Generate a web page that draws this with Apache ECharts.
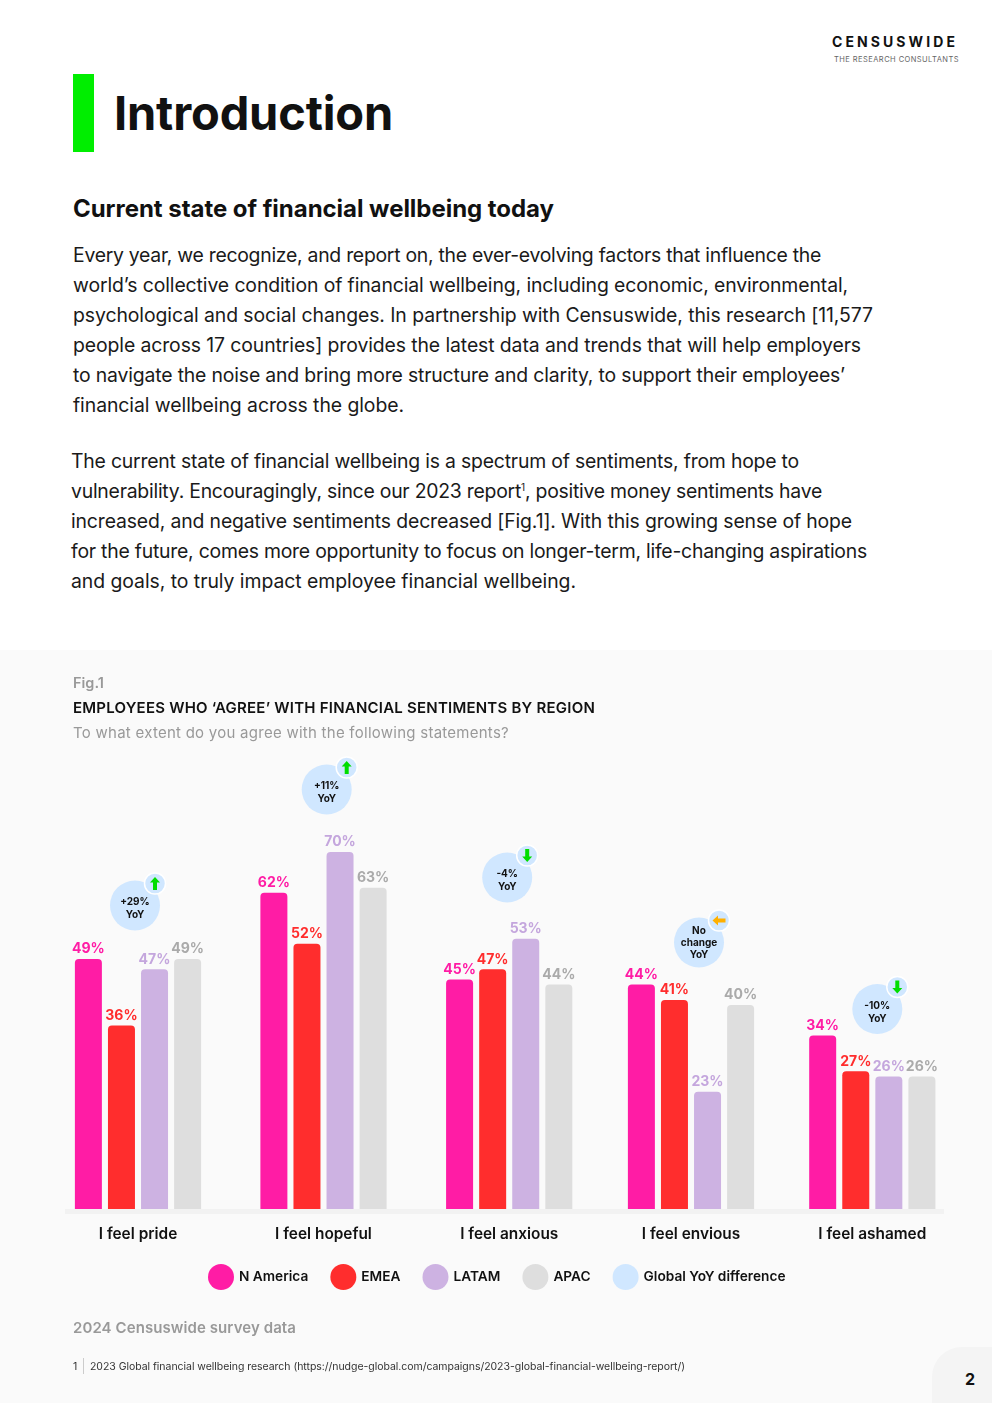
<!DOCTYPE html>
<html>
<head>
<meta charset="utf-8">
<title>Introduction</title>
<script src="https://cdn.jsdelivr.net/npm/echarts@6/dist/echarts.min.js"></script>
<style>
  html, body { margin: 0; padding: 0; background: #fff; }
  body { position: relative; width: 992px; height: 1403px; overflow: hidden; font-family: Inter, sans-serif; color: #111; }
  .t { position: absolute; white-space: nowrap; z-index: 2; }
  .line { font-size: 19.4px; line-height: 30px; color: #1a1a1a; }
  .line sup { font-size: 10px; line-height: 0; }
  #chart { position: absolute; left: 0; top: 650px; width: 992px; height: 753px; }
</style>
</head>
<body>
<div class="t" data-right="958" style="left:832px;top:34px;font-size:14px;font-weight:700;line-height:16px">CENSUSWIDE</div>
<div class="t" data-right="959" style="left:834px;top:55px;font-size:7.5px;line-height:10px;color:#666">THE RESEARCH CONSULTANTS</div>
<div style="position:absolute;left:73px;top:74px;width:21px;height:78px;background:#00ee00"></div>
<div class="t" data-right="393" style="left:114px;top:84px;font-size:47px;font-weight:700;line-height:58px">Introduction</div>
<div class="t" data-right="554" style="left:73px;top:194px;font-size:24px;font-weight:700;line-height:30px">Current state of financial wellbeing today</div>

<div class="t line" data-right="821" style="left:73px;top:240px">Every year, we recognize, and report on, the ever-evolving factors that influence the</div>
<div class="t line" data-right="848" style="left:73px;top:270px">world’s collective condition of financial wellbeing, including economic, environmental,</div>
<div class="t line" data-right="873" style="left:73px;top:300px">psychological and social changes. In partnership with Censuswide, this research [11,577</div>
<div class="t line" data-right="861" style="left:73px;top:330px">people across 17 countries] provides the latest data and trends that will help employers</div>
<div class="t line" data-right="845" style="left:73px;top:360px">to navigate the noise and bring more structure and clarity, to support their employees’</div>
<div class="t line" data-right="404" style="left:73px;top:390px">financial wellbeing across the globe.</div>

<div class="t line" data-right="799" style="left:71px;top:446px">The current state of financial wellbeing is a spectrum of sentiments, from hope to</div>
<div class="t line" data-right="822" style="left:71px;top:476px">vulnerability. Encouragingly, since our 2023 report<sup>1</sup>, positive money sentiments have</div>
<div class="t line" data-right="852" style="left:71px;top:506px">increased, and negative sentiments decreased [Fig.1]. With this growing sense of hope</div>
<div class="t line" data-right="867" style="left:71px;top:536px">for the future, comes more opportunity to focus on longer-term, life-changing aspirations</div>
<div class="t line" data-right="576" style="left:71px;top:566px">and goals, to truly impact employee financial wellbeing.</div>

<div id="chart"></div>

<div class="t" style="left:73px;top:674px;font-size:14.5px;font-weight:600;color:#999;line-height:18px">Fig.1</div>
<div class="t" data-right="595" style="left:73px;top:699px;font-size:15px;font-weight:600;color:#111;line-height:18px">EMPLOYEES WHO ‘AGREE’ WITH FINANCIAL SENTIMENTS BY REGION</div>
<div class="t" data-right="509" style="left:73px;top:724px;font-size:15px;color:#999;line-height:18px">To what extent do you agree with the following statements?</div>
<div class="t" data-right="296" style="left:73px;top:1319px;font-size:15px;font-weight:600;color:#999;line-height:18px">2024 Censuswide survey data</div>
<div class="t" style="left:73px;top:1360px;font-size:10.5px;color:#333;line-height:13px">1</div>
<div style="position:absolute;left:83px;top:1358px;width:1px;height:16px;background:#ccc;z-index:2"></div>
<div class="t" data-right="685" style="left:90px;top:1360px;font-size:10.5px;color:#333;line-height:13px">2023 Global financial wellbeing research (https://nudge-global.com/campaigns/2023-global-financial-wellbeing-report/)</div>
<div style="position:absolute;left:932px;top:1347px;width:60px;height:56px;background:#f4f4f4;border-top-left-radius:30px;z-index:1"></div>
<div class="t" style="left:965px;top:1369px;font-size:16px;font-weight:700;line-height:20px">2</div>

<script>
// chart data
const categories = ['I feel pride', 'I feel hopeful', 'I feel anxious', 'I feel envious', 'I feel ashamed']
const regions = ['N America', 'EMEA', 'LATAM', 'APAC']
const nAmerica = [49, 62, 45, 44, 34]
const emea = [36, 52, 47, 41, 27]
const latam = [47, 70, 53, 23, 26]
const apac = [49, 63, 44, 40, 26]
const yoyName = 'Global YoY difference'
const yoyLabels = ['+29%\nYoY', '+11%\nYoY', '-4%\nYoY', 'No\nchange\nYoY', '-10%\nYoY']
const yoyArrows = ['up', 'up', 'down', 'flat', 'down']

const regionValues = [nAmerica, emea, latam, apac]
const barColors = ['#ff1ca5', '#ff2d2d', '#cdb2e2', '#dedede']
const labelColors = ['#ff1ca5', '#ff2d2d', '#c4a6dd', '#aaaaaa']
const bubbleColor = '#d0e7ff'
const arrowColors = { up: '#00dd00', down: '#00dd00', flat: '#ffb000' }
const arrowRotate = { up: 0, down: 180, flat: 90 }

// layout, px inside the chart div
const fontName = 'Inter'
const baseY = 559
const pxPerPct = 5.1
const yMax = 90
const groupCenters = [138, 323.5, 509.2, 691, 872.3]
const groupWidth = 150
// bubble placement: px from group centre, px above the baseline
const bubbleDx = [-3, 3.2, -2, 8, 5]
const bubbleLift = [303.5, 419.5, 331.5, 266.5, 200]

// the page font is not the original one, so stretch each text line to the reference width
document.querySelectorAll('[data-right]').forEach(el => {
  const box = el.getBoundingClientRect()
  const chars = el.textContent.length
  el.style.letterSpacing = ((Number(el.dataset.right) - box.right) / chars) + 'px'
})

const chart = echarts.init(document.getElementById('chart'))

const grids = []
const xAxes = []
const yAxes = []
const series = []

categories.forEach((cat, i) => {
  grids.push({ left: groupCenters[i] - groupWidth / 2, width: groupWidth, top: baseY - yMax * pxPerPct, height: yMax * pxPerPct })
  xAxes.push({
    gridIndex: i,
    type: 'category',
    data: [cat],
    axisLine: { show: false },
    axisTick: { show: false },
    axisLabel: { margin: 18, fontSize: 15.4, fontWeight: 600, fontFamily: fontName, color: '#111', interval: 0 }
  })
  yAxes.push({ gridIndex: i, type: 'value', min: 0, max: yMax, show: false })

  regions.forEach((name, r) => {
    series.push({
      name: name,
      type: 'bar',
      xAxisIndex: i,
      yAxisIndex: i,
      data: [regionValues[r][i]],
      barWidth: 27,
      barGap: '22.5%',
      itemStyle: { color: barColors[r], borderRadius: [4, 4, 0, 0] },
      label: {
        show: true,
        position: 'top',
        distance: 3,
        formatter: '{c}%',
        fontSize: 14,
        fontWeight: 700,
        fontFamily: fontName,
        color: labelColors[r]
      }
    })
  })

  const lift = bubbleLift[i] / pxPerPct
  const dir = yoyArrows[i]
  const threeLines = yoyLabels[i].split('\n').length > 2
  series.push({
    name: yoyName,
    type: 'scatter',
    xAxisIndex: i,
    yAxisIndex: i,
    z: 5,
    symbol: 'circle',
    symbolSize: 50,
    symbolOffset: [bubbleDx[i], 0],
    itemStyle: { color: bubbleColor, opacity: 1 },
    label: {
      show: true,
      position: 'inside',
      offset: [0, threeLines ? 0 : 3],
      formatter: yoyLabels[i],
      fontSize: 10,
      lineHeight: threeLines ? 12 : 13,
      fontWeight: 700,
      fontFamily: fontName,
      color: '#111'
    },
    data: [[0, lift]]
  })
  series.push({
    type: 'scatter',
    xAxisIndex: i,
    yAxisIndex: i,
    z: 6,
    symbol: 'circle',
    symbolSize: 21,
    symbolOffset: [bubbleDx[i] + 20, -22],
    itemStyle: { color: bubbleColor, borderColor: '#fff', borderWidth: 1.5, opacity: 1 },
    data: [[0, lift]]
  })
  series.push({
    type: 'scatter',
    xAxisIndex: i,
    yAxisIndex: i,
    z: 7,
    symbol: 'path://M5 0 L10 5.5 L7 5.5 L7 13 L3 13 L3 5.5 L0 5.5 Z',
    symbolSize: [10, 13],
    symbolRotate: arrowRotate[dir],
    symbolOffset: [bubbleDx[i] + 20, -22],
    itemStyle: { color: arrowColors[dir], opacity: 1 },
    data: [[0, lift]]
  })
})

chart.setOption({
  animation: false,
  backgroundColor: '#fafafa',
  textStyle: { fontFamily: fontName },
  grid: grids,
  xAxis: xAxes,
  yAxis: yAxes,
  legend: {
    left: 208,
    top: 614,
    padding: 0,
    data: regions.concat(yoyName),
    icon: 'circle',
    itemWidth: 26,
    itemHeight: 26,
    itemGap: 22,
    selectedMode: false,
    textStyle: { fontSize: 13.7, fontWeight: 600, fontFamily: fontName, color: '#111' }
  },
  graphic: [
    { type: 'rect', z: 1, shape: { x: 65, y: baseY, width: 879, height: 5 }, style: { fill: '#f2f2f2' } }
  ],
  series: series
})
</script>
</body>
</html>
